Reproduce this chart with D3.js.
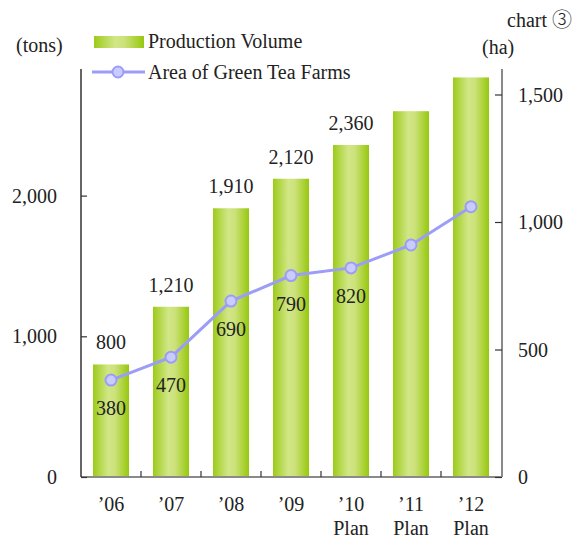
<!DOCTYPE html>
<html>
<head>
<meta charset="utf-8">
<script src="https://cdn.jsdelivr.net/npm/d3@7"></script>
<style>
  html, body { margin: 0; padding: 0; background: #fff; }
  svg text { font-family: "Liberation Serif", "DejaVu Serif", serif; fill: #222; }
</style>
</head>
<body>
<svg id="chart" width="581" height="538"></svg>
<script>
const years = ["’06", "’07", "’08", "’09", "’10", "’11", "’12"];
const subLabels = ["", "", "", "", "Plan", "Plan", "Plan"];
const production = [800, 1210, 1910, 2120, 2360, 2600, 2840];
const productionLabels = ["800", "1,210", "1,910", "2,120", "2,360", "", ""];
const area = [380, 470, 690, 790, 820, 910, 1060];
const areaLabels = ["380", "470", "690", "790", "820", "", ""];
const leftTicks = [0, 1000, 2000];
const rightTicks = [0, 500, 1000, 1500];

const svg = d3.select("#chart");
const fmt = d3.format(",");

const x = d3.scaleBand().domain(years).range([81, 501]).paddingInner(0.4).paddingOuter(0.2);
const yL = d3.scaleLinear().domain([0, 2900]).range([477, 69]);
const yR = d3.scaleLinear().domain([0, 1600]).range([477, 69]);

const defs = svg.append("defs");
const grad = defs.append("linearGradient").attr("id", "barGrad")
  .attr("x1", "0%").attr("x2", "100%").attr("y1", "0%").attr("y2", "0%");
grad.append("stop").attr("offset", "0%").attr("stop-color", "#9ccb1a");
grad.append("stop").attr("offset", "42%").attr("stop-color", "#d1e686");
grad.append("stop").attr("offset", "60%").attr("stop-color", "#cde27c");
grad.append("stop").attr("offset", "100%").attr("stop-color", "#96c80c");

// bars
svg.append("g").selectAll("rect").data(production).join("rect")
  .attr("x", (d, i) => x(years[i]))
  .attr("y", d => yL(d))
  .attr("width", x.bandwidth())
  .attr("height", d => yL(0) - yL(d))
  .attr("fill", "url(#barGrad)");

// bar labels
svg.append("g").selectAll("text").data(production).join("text")
  .attr("x", (d, i) => x(years[i]) + x.bandwidth() / 2)
  .attr("y", d => yL(d) - 15)
  .attr("text-anchor", "middle")
  .style("font-size", "20px")
  .text((d, i) => productionLabels[i]);

// bottom axis (gray line with small upward ticks at band boundaries)
const bottom = svg.append("g");
bottom.append("line").attr("x1", 81).attr("x2", 502).attr("y1", yL(0)).attr("y2", yL(0))
  .attr("stroke", "#8a8a8a").attr("stroke-width", 2);
bottom.selectAll("line.tk").data(years.slice(1)).join("line").attr("class", "tk")
  .attr("x1", d => x(d) - x.step() * x.paddingInner() / 2)
  .attr("x2", d => x(d) - x.step() * x.paddingInner() / 2)
  .attr("y1", yL(0) - 6).attr("y2", yL(0))
  .attr("stroke", "#333").attr("stroke-width", 1.2);

// x labels
svg.append("g").selectAll("text").data(years).join("text")
  .attr("x", d => x(d) + x.bandwidth() / 2)
  .attr("y", 511)
  .attr("text-anchor", "middle")
  .style("font-size", "20px")
  .text(d => d);
svg.append("g").selectAll("text").data(subLabels).join("text")
  .attr("x", (d, i) => x(years[i]) + x.bandwidth() / 2)
  .attr("y", 535)
  .attr("text-anchor", "middle")
  .style("font-size", "20px")
  .text(d => d);

// left axis
const leftAxis = d3.axisRight(yL).tickValues(leftTicks).tickSize(6).tickFormat(() => "");
const gL = svg.append("g").attr("transform", "translate(81,0)").call(leftAxis);
gL.select(".domain").attr("stroke", "#333").attr("stroke-width", 1.5).attr("d", `M0,${yL(0)}V69`);
gL.selectAll(".tick line").attr("stroke", "#333").attr("stroke-width", 1.2);
svg.append("g").selectAll("text").data(leftTicks).join("text")
  .attr("x", 57).attr("y", d => yL(d)).attr("dy", "0.35em")
  .attr("text-anchor", "end")
  .style("font-size", "20px")
  .text(d => fmt(d));

// right axis
const rightAxis = d3.axisLeft(yR).tickValues(rightTicks).tickSize(7).tickFormat(() => "");
const gR = svg.append("g").attr("transform", "translate(502,0)").call(rightAxis);
gR.select(".domain").attr("stroke", "#8a8a8a").attr("stroke-width", 2).attr("d", `M0,${yR(0)}V69`);
gR.selectAll(".tick line").attr("stroke", "#333").attr("stroke-width", 1.2);
svg.append("g").selectAll("text").data(rightTicks).join("text")
  .attr("x", 518).attr("y", d => yR(d)).attr("dy", "0.35em")
  .attr("text-anchor", "start")
  .style("font-size", "20px")
  .text(d => fmt(d));

// line
const line = d3.line().x((d, i) => x(years[i]) + x.bandwidth() / 2).y(d => yR(d));
svg.append("path").datum(area).attr("d", line)
  .attr("fill", "none").attr("stroke", "#9b9df7").attr("stroke-width", 3);
svg.append("g").selectAll("circle").data(area).join("circle")
  .attr("cx", (d, i) => x(years[i]) + x.bandwidth() / 2)
  .attr("cy", d => yR(d))
  .attr("r", 5.5)
  .attr("fill", "#cacbff").attr("stroke", "#9b9df7").attr("stroke-width", 2);
svg.append("g").selectAll("text").data(area).join("text")
  .attr("x", (d, i) => x(years[i]) + x.bandwidth() / 2)
  .attr("y", d => yR(d) + 35)
  .attr("text-anchor", "middle")
  .style("font-size", "20px")
  .text((d, i) => areaLabels[i]);

// unit labels & title
svg.append("text").attr("x", 16).attr("y", 52).style("font-size", "20px").text("(tons)");
svg.append("text").attr("x", 482).attr("y", 54).style("font-size", "20px").text("(ha)");
const title = svg.append("text").attr("x", 507).attr("y", 27).style("font-size", "20px");
title.append("tspan").text("chart ");
title.append("tspan").style("font-family", "'Noto Sans CJK JP', 'DejaVu Sans', sans-serif")
  .style("font-size", "20px").style("font-weight", "300").text("③");

// legend
const lg = svg.append("g");
lg.append("rect").attr("x", 94).attr("y", 36).attr("width", 50).attr("height", 12).attr("fill", "url(#barGrad)");
lg.append("text").attr("x", 148).attr("y", 48).style("font-size", "20px").text("Production Volume");
lg.append("line").attr("x1", 92).attr("x2", 145).attr("y1", 72).attr("y2", 72)
  .attr("stroke", "#9b9df7").attr("stroke-width", 3);
lg.append("circle").attr("cx", 118).attr("cy", 72).attr("r", 5.5)
  .attr("fill", "#cacbff").attr("stroke", "#9b9df7").attr("stroke-width", 2);
lg.append("text").attr("x", 148).attr("y", 79).style("font-size", "20px").text("Area of Green Tea Farms");
</script>
</body>
</html>
